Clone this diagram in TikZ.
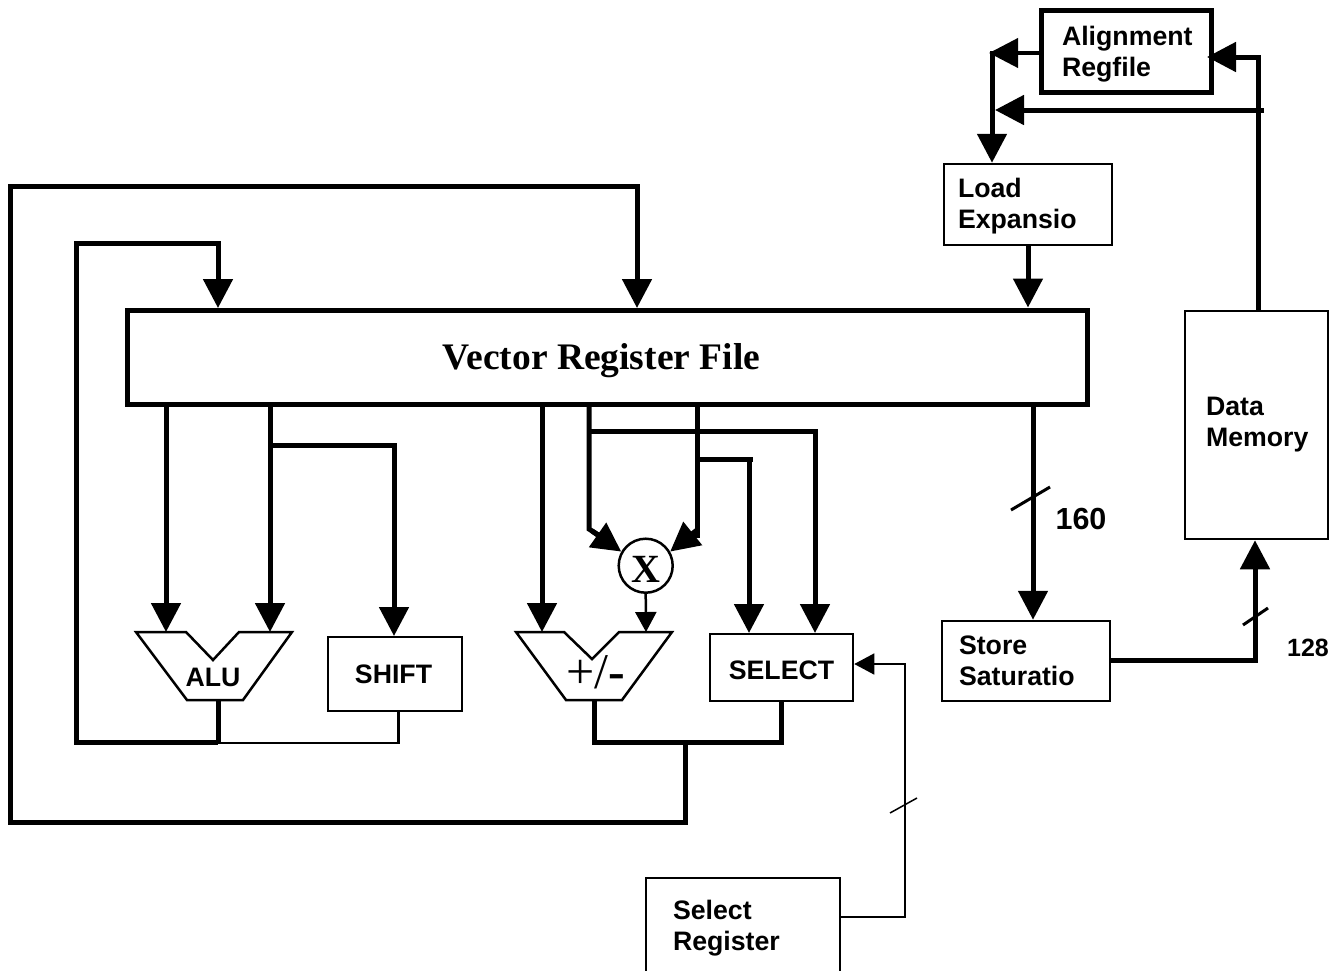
\documentclass[tikz,border=0pt]{standalone}
\usepackage{fontspec}
\setmainfont{Liberation Sans}
\newfontfamily\serifbold{Liberation Serif}[BoldFont={Liberation Serif Bold}]
\usetikzlibrary{arrows.meta,calc,positioning}

\begin{document}
\begin{tikzpicture}[x=1pt,y=-1pt,
  every node/.style={font=\fontsize{26.7}{31}\selectfont\bfseries,align=left},
  unitbox/.style={draw,line width=2.5pt,fill=white,inner sep=0pt},
  wire/.style={line width=5pt},
  bigtip/.style={-{Triangle[length=29pt,width=29pt]}},
  smalltip/.style={-{Triangle[length=20pt,width=21pt]}}]
\useasboundingbox (0,0) rectangle (1343,970);
% boxes
\node[unitbox,line width=5pt,minimum width=170pt,minimum height=82pt,text width=129pt] (align) at (1126.5,51.5) {\rule{0pt}{25.5pt}Alignment\\Regfile};
\node[unitbox,minimum width=168pt,minimum height=81pt,text width=140pt] (load) at (1028,204.5) {\rule{0pt}{23.5pt}Load\\Expansio};
\node[unitbox,line width=5pt,minimum width=960pt,minimum height=94pt] (vrf) at (607,357) {};
\node[font=\serifbold\fontsize{37.5}{42}\selectfont\bfseries] (vrftext) at (601.5,361) {Vector Register File};
\node[unitbox,minimum width=143pt,minimum height=228pt,text width=101pt] (mem) at (1256.5,425) {Data\\Memory};
\node[unitbox,minimum width=168pt,minimum height=80pt,text width=134pt] (store) at (1026,661) {Store\\Saturatio};
\node[unitbox,minimum width=134pt,minimum height=74pt,align=center] (shift) at (395,674) {\hspace*{-3pt}SHIFT};
\node[unitbox,minimum width=143pt,minimum height=67pt,align=center] (select) at (781.5,667.5) {\rule{0pt}{25pt}SELECT};
\node[unitbox,minimum width=194pt,minimum height=100pt,text width=140pt] (selreg) at (743,928) {Select\\Register};
\node[draw,circle,line width=2.5pt,fill=white,minimum size=54pt,inner sep=0pt,font=\serifbold\fontsize{40}{44}\selectfont\bfseries] (mul) at (645.7,565.7) {\rule{0pt}{33pt}X};
% alu and adder
\draw[line width=2.5pt,line join=miter] (136,632) -- (186,632) -- (213,660) -- (239,632) -- (292,632) -- (243,700) -- (187,700) -- cycle;
\draw[line width=2.5pt,line join=miter] (516,632) -- (564,632) -- (592,659) -- (619,632) -- (672,632) -- (622,700) -- (566,700) -- cycle;
\node (alu) at (213,677) {ALU};
\node[font=\serifbold\fontsize{50}{54}\selectfont] (addsub) at (596,672) {+/\textbf{-}};
\coordinate (aluleft) at (166,632);
\coordinate (aluright) at (270,632);
\coordinate (aluout) at (218,700);
\coordinate (addleft) at (542,632);
\coordinate (addright) at (646,632);
\coordinate (addout) at (594,700);
\coordinate (loopin) at (218,308);
\coordinate (fbin) at (637,308);
\coordinate (aluback) at (218,742);
\coordinate (addback) at (685,742);
\coordinate (muleft) at (589,431);
\coordinate (muright) at (697,459);
\coordinate (shiftout) at (398.5,712);
\coordinate (slashsel) at (904,806);
% feedback
\draw[wire,bigtip] (addback) -- (685,822) -- (10,822) -- (10,186) -- (637,186) -- (fbin);
\draw[wire,bigtip] (aluback) -- (76,742) -- (76,243) -- (218,243) -- (loopin);
\draw[line width=5pt] (aluout) -- (218,744);
\draw[line width=2.5pt] (218,743) -| (shiftout);
\draw[line width=5pt] (addout) |- (addback) -| (select.south);
% register file outputs
\draw[wire,bigtip] (vrf.south -| aluleft) -- (aluleft);
\draw[wire,bigtip] (vrf.south -| aluright) -- (aluright);
\draw[wire,bigtip] (270,445) -- (394,445) -- (394,636);
\draw[wire,bigtip] (vrf.south -| addleft) -- (addleft);
\draw[wire] (vrf.south -| muleft) -- (589,529) -- (600,536);
\draw[wire] (vrf.south -| muright) -- (697,535) -- (688,535);
\draw[wire,bigtip] (592,531) -- (mul.150);
\draw[wire,bigtip] (697,530) -- (mul.30);
\draw[wire,bigtip] (587,431) -- (815,431) -- (815,633);
\draw[wire] (muright) -- (753,459);
\draw[wire,bigtip] (749,459) -- (749,633);
\draw[line width=2.5pt,smalltip] (mul.south) -- (addright);
% select register
\draw[line width=1.5pt,smalltip] (selreg.east |- 0,917) -- (905,917) -- (905,664) -- (select.east |- 0,664);
\draw[line width=1.5pt] ($(slashsel)+(-14,7)$) -- ($(slashsel)+(13,-8)$);
% memory path
\draw[wire,bigtip] (load.south) -- (vrf.north -| load.south);
\draw[wire,bigtip] (vrf.south -| 1033,0) -- (store.north -| 1033,0);
\draw[line width=3pt] (1011,510) -- (1050,487);
\node[font=\fontsize{30.5}{34}\selectfont\bfseries] (width160) at (1081,519) {160};
\draw[line width=5pt,bigtip] (store.east |- 0,660) -- (1255,660) -- (mem.south -| 1255,0);
\draw[line width=3pt] (1243,625) -- (1268,608);
\node[font=\fontsize{25}{28}\selectfont\bfseries] (width128) at (1308,648) {128};
\draw[wire,bigtip,shorten >=-7pt] (mem.north -| 1258,0) -- (1258,57) -- (align.east |- 0,57);
\draw[wire,bigtip] (1264,110) -- (995,110);
\draw[line width=4pt,bigtip] (align.west |- 0,53) -- (989,53);
\draw[wire,bigtip] (992,51) -- (load.north -| 992,0);
\end{tikzpicture}
\end{document}
